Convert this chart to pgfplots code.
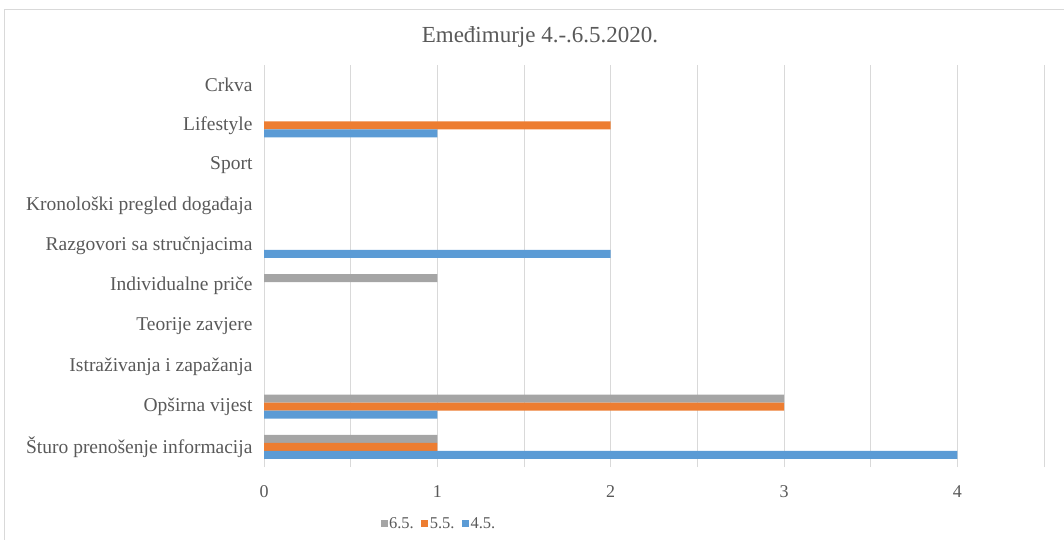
\documentclass[border=0pt]{standalone}
\usepackage{fontspec}
\setmainfont{Liberation Serif}
\usepackage{pgfplots}
\pgfplotsset{compat=1.18}
\definecolor{cblue}{HTML}{5B9BD5}
\definecolor{corange}{HTML}{ED7D31}
\definecolor{cgray}{HTML}{A5A5A5}
\definecolor{ctext}{HTML}{595959}
\definecolor{cgrid}{HTML}{D9D9D9}
\pgfplotsset{
  sqlegend/.style={legend image code/.code={\fill[##1,draw=none] (0pt,-3.5pt) rectangle (7pt,3.5pt);}}
}
\begin{document}
\begin{tikzpicture}[x=1pt,y=1pt]
\useasboundingbox (0,0) rectangle (1064,539);
\draw[cgrid] (4,-5) -- (4,530) -- (1070,530);
\node[font=\fontsize{23}{27}\selectfont, text=ctext] at (540,502) {Emeđimurje 4.-.6.5.2020.};
\begin{axis}[
  at={(264pt,72pt)}, anchor=south west,
  scale only axis, width=780pt, height=402pt,
  xmin=0, xmax=4.5, ymin=-0.5, ymax=9.5,
  xbar, bar width=8pt,
  axis line style={draw=none},
  major tick length=0pt,
  xtick={0,0.5,...,4.5},
  xticklabels={0,,1,,2,,3,,4,},
  xmajorgrids, grid style={cgrid, line width=0.8pt},
  ytick={0,...,9},
  yticklabels={Šturo prenošenje informacija, Opširna vijest, Istraživanja i zapažanja, Teorije zavjere, Individualne priče, Razgovori sa stručnjacima, Kronološki pregled događaja, Sport, Lifestyle, Crkva},
  /pgf/number format/assume math mode=true,
  xticklabel style={font=\fontsize{18}{21}\selectfont, text=ctext, yshift=-15pt},
  yticklabel style={font=\fontsize{19.5}{23}\selectfont, text=ctext, xshift=-8pt},
  sqlegend,
  legend columns=3,
  legend style={at={(0.224,-0.141)}, anchor=center, draw=none, fill=none,
    font=\fontsize{16.5}{19}\selectfont, text=ctext,
    /tikz/every even column/.append style={column sep=6pt},
    nodes={inner sep=1.5pt}},
]
\addplot[fill=cgray, draw=none, bar shift=8pt] coordinates {(1,0) (3,1) (1,4)};
\addlegendentry{6.5.}
\addplot[fill=corange, draw=none, bar shift=0pt] coordinates {(1,0) (3,1) (2,8)};
\addlegendentry{5.5.}
\addplot[fill=cblue, draw=none, bar shift=-8pt] coordinates {(4,0) (1,1) (2,5) (1,8)};
\addlegendentry{4.5.}
\end{axis}
\end{tikzpicture}
\end{document}
